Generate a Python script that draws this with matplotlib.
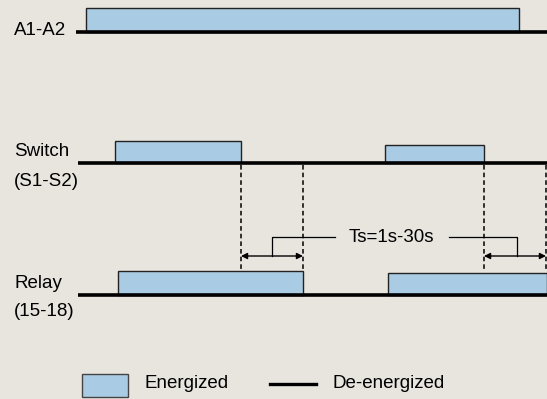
import matplotlib.pyplot as plt
from matplotlib.patches import Rectangle

# timing diagram, coordinates in pixel units of the original picture
bg = '#e8e5df'
blue = '#aacbe4'

base_y = [32, 163, 295]
line_start = [76, 78, 78]
# energized intervals per row: (start, end, top)
a1_on = [(86, 519, 8)]
switch_on = [(115, 241, 141), (385, 484, 145)]
relay_on = [(118, 303, 271), (388, 547, 273)]
# Ts delay markers
ts_start = [241, 484]
ts_end = [303, 546]
ts_label = 'Ts=1s-30s'

fig = plt.figure(figsize=(5.47, 3.99), dpi=100)
fig.patch.set_facecolor(bg)
ax = fig.add_axes([0, 0, 1, 1])
ax.set_xlim(0, 547)
ax.set_ylim(399, 0)
ax.axis('off')

font = ['Liberation Sans', 'DejaVu Sans']
fs = 13.5

for intervals, y0, x0 in zip([a1_on, switch_on, relay_on], base_y, line_start):
    for s, e, top in intervals:
        ax.add_patch(Rectangle((s, top), e - s, y0 - top, facecolor=blue,
                               edgecolor='#222222', lw=1.0, zorder=2))
    ax.plot([x0, 547], [y0, y0], color='black', lw=2.6, zorder=3,
            solid_capstyle='butt')

ax.text(14, 30.5, 'A1-A2', fontsize=fs, family=font, va='center')
ax.text(14, 152, 'Switch', fontsize=fs, family=font, va='center')
ax.text(14, 181, '(S1-S2)', fontsize=fs, family=font, va='center')
ax.text(14, 283, 'Relay', fontsize=fs, family=font, va='center')
ax.text(14, 312, '(15-18)', fontsize=fs, family=font, va='center')

# dashed guides
for xs, xe in zip(ts_start, ts_end):
    ax.plot([xs, xs], [165, 271], color='black', lw=1.1, ls=(0, (3, 2)), zorder=1)
    ax.plot([xe, xe], [165, 271], color='black', lw=1.1, ls=(0, (3, 2)), zorder=1)
    ax.annotate('', xy=(xs, 256), xytext=(xe, 256),
                arrowprops=dict(arrowstyle='<|-|>', color='black', lw=1.0,
                                mutation_scale=9, shrinkA=0, shrinkB=0))

# brackets to label
ax.plot([272, 272, 335], [256, 237, 237], color='black', lw=0.9)
ax.plot([449, 517, 517], [237, 237, 256], color='black', lw=0.9)
ax.text(391, 238, ts_label, fontsize=fs, family=font, ha='center', va='center')

# legend
ax.add_patch(Rectangle((82, 374), 46, 23, facecolor=blue, edgecolor='#444444', lw=1.0))
ax.text(145, 384, 'Energized', fontsize=fs, family=font, va='center')
ax.plot([270, 316], [384, 384], color='black', lw=2.4)
ax.text(333, 384, 'De-energized', fontsize=fs, family=font, va='center')

fig.savefig('out.png', dpi=100, facecolor=bg)
